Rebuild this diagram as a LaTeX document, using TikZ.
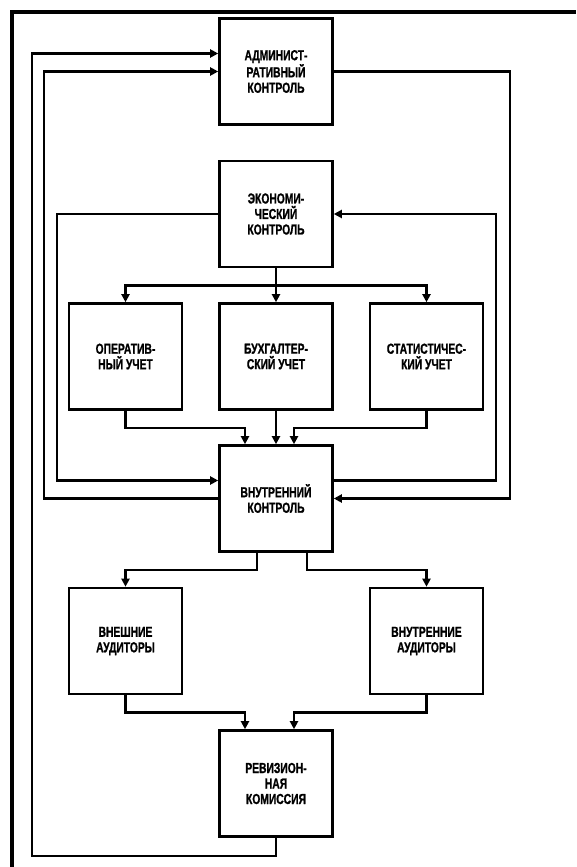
\documentclass[tikz,border=0pt]{standalone}
\usepackage{fontspec}
\newfontfamily\boxfont{Liberation Sans}[FakeStretch=0.71,FakeBold=1]
\usetikzlibrary{arrows.meta}
\begin{document}
\begin{tikzpicture}[x=1pt,y=-1pt,
	box/.style={draw,line width=2.6pt,minimum width=113pt,minimum height=106pt,inner sep=0pt,align=center,font=\boxfont\bfseries\fontsize{14.5}{15.5}\selectfont},
	flow/.style={line width=2.4pt,-{Triangle[length=8pt,width=8pt]}},
	link/.style={line width=2.4pt}]
	\useasboundingbox (0,0) rectangle (576,867);
	%rahmen
	\draw[line width=4.5pt] (12,867) -- (12,12) -- (576,12);
	%bloecke
	\node[box] (adm) at (276,71.5) {АДМИНИСТ-\\РАТИВНЫЙ\\КОНТРОЛЬ};
	\node[box] (eco) at (276,214) {ЭКОНОМИ-\\ЧЕСКИЙ\\КОНТРОЛЬ};
	\node[box] (opr) at (125.5,356.5) {ОПЕРАТИВ-\\НЫЙ УЧЕТ};
	\node[box] (buh) at (276,356.5) {БУХГАЛТЕР-\\СКИЙ УЧЕТ};
	\node[box] (stat) at (426.5,356.5) {СТАТИСТИЧЕС-\\КИЙ УЧЕТ};
	\node[box] (int) at (276,498.5) {ВНУТРЕННИЙ\\КОНТРОЛЬ};
	\node[box] (ext) at (125.5,641) {ВНЕШНИЕ\\АУДИТОРЫ};
	\node[box] (intaud) at (426.5,641) {ВНУТРЕННИЕ\\АУДИТОРЫ};
	\node[box] (rev) at (276,783.5) {РЕВИЗИОН-\\НАЯ\\КОМИССИЯ};
	%oben
	\draw[flow] (eco.south) -- (buh.north);
	\draw[flow] (eco.south) ++(0,17) -| (opr.north);
	\draw[flow] (eco.south) ++(0,17) -| (stat.north);
	\draw[flow] (opr.south) -- ++(0,17) -| ([xshift=-31pt]int.north);
	\draw[flow] (buh.south) -- (int.north);
	\draw[flow] (stat.south) -- ++(0,17) -| ([xshift=18pt]int.north);
	%unten
	\draw[flow] ([xshift=-19pt]int.south) -- ++(0,17) -| (ext.north);
	\draw[flow] ([xshift=31pt]int.south) -- ++(0,17) -| (intaud.north);
	\draw[flow] (ext.south) -- ++(0,17) -| ([xshift=-31pt]rev.north);
	\draw[flow] (intaud.south) -- ++(0,17) -| ([xshift=18pt]rev.north);
	%rueckkopplung
	\draw[flow] (rev.south) -- ++(0,18) -| (32,53.5) -- ([yshift=18pt]adm.west);
	\draw[flow] (int.west) -| (44,71.5) -- (adm.west);
	\draw[flow] (adm.east) -| (510,498.5) -- (int.east);
	\draw[flow] (eco.west) -| (57,480.5) -- ([yshift=18pt]int.west);
	\draw[flow,{Triangle[length=8pt,width=8pt]}-] (eco.east) -| (496,480.5) -- ([yshift=18pt]int.east);
\end{tikzpicture}
\end{document}
